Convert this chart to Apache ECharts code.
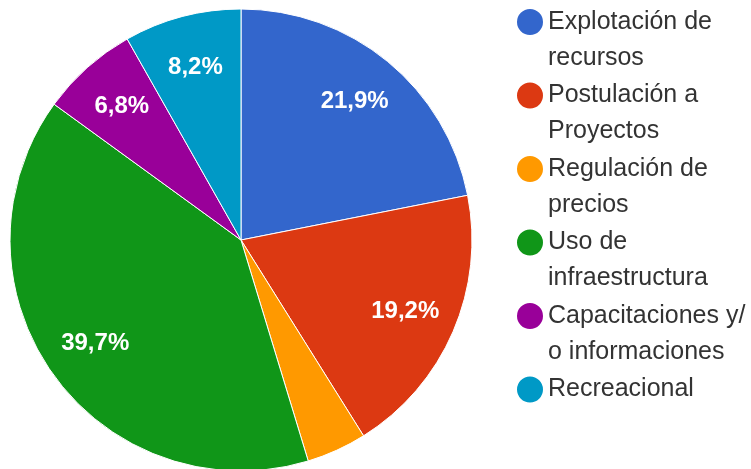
<!DOCTYPE html>
<html>
<head>
<meta charset="utf-8">
<script src="https://cdn.jsdelivr.net/npm/echarts@6/dist/echarts.min.js"></script>
<style>
html,body{margin:0;padding:0;background:#fff;}
#chart{width:751px;height:469px;}
</style>
</head>
<body>
<div id="chart"></div>
<script>
var categories = ['Explotación de recursos', 'Postulación a Proyectos', 'Regulación de precios', 'Uso de infraestructura', 'Capacitaciones y/o informaciones', 'Recreacional'];
var legendLabels = ['Explotación de\nrecursos', 'Postulación a\nProyectos', 'Regulación de\nprecios', 'Uso de\ninfraestructura', 'Capacitaciones y/\no informaciones', 'Recreacional\n '];
var values = [21.9, 19.2, 4.2, 39.7, 6.8, 8.2];
var colors = ['#3366cc', '#dc3912', '#ff9900', '#109618', '#990099', '#0099c6'];

var total = values.reduce(function (a, b) { return a + b; }, 0);
var pieData = categories.map(function (c, i) {
  return { name: c, value: values[i] };
});
var labelData = categories.map(function (c, i) {
  var pct = values[i] / total * 100;
  return { name: c, value: values[i], label: { show: pct >= 5 } };
});
var legendMap = {};
categories.forEach(function (c, i) { legendMap[c] = legendLabels[i]; });

var chart = echarts.init(document.getElementById('chart'), null, { renderer: 'canvas' });
chart.setOption({
  animation: false,
  color: colors,
  legend: {
    orient: 'vertical',
    left: 517,
    top: 4,
    padding: 0,
    itemWidth: 26,
    itemHeight: 72,
    itemGap: 1.5,
    selectedMode: false,
    icon: 'path://M13,0L13,0.01M0,18A13,13 0 1,1 26,18A13,13 0 1,1 0,18ZM13,72L13,71.99',
    itemStyle: { borderWidth: 0 },
    data: categories,
    formatter: function (name) { return legendMap[name]; },
    textStyle: {
      fontFamily: 'Liberation Sans, Arial, sans-serif',
      fontSize: 25,
      lineHeight: 36,
      color: '#333333'
    }
  },
  series: [
    {
      type: 'pie',
      center: [241, 240],
      radius: [0, 231],
      startAngle: 90,
      clockwise: true,
      data: pieData,
      label: { show: false },
      labelLine: { show: false },
      itemStyle: { borderColor: '#ffffff', borderWidth: 1 },
      emphasis: { disabled: true },
      silent: true
    },
    {
      type: 'pie',
      center: [241, 240],
      radius: [121, 231],
      startAngle: 90,
      clockwise: true,
      data: labelData,
      itemStyle: { color: 'rgba(0,0,0,0)', borderWidth: 0 },
      label: {
        show: true,
        position: 'inside',
        color: '#ffffff',
        fontFamily: 'Liberation Sans, Arial, sans-serif',
        fontWeight: 'bold',
        fontSize: 24,
        formatter: function (p) {
          return (p.value / total * 100).toFixed(1).replace('.', ',') + '%';
        }
      },
      labelLine: { show: false },
      emphasis: { disabled: true },
      silent: true
    }
  ]
});
</script>
</body>
</html>
